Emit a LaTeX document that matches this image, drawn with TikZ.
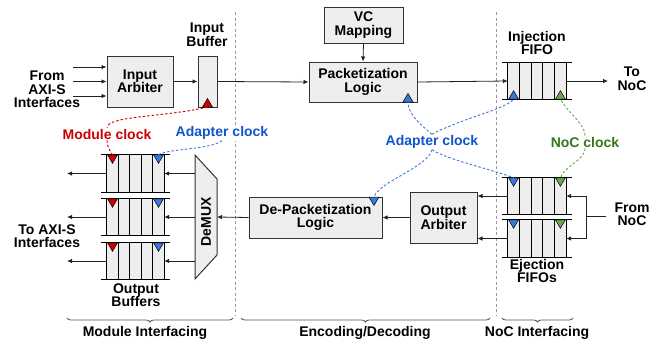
\documentclass[tikz,border=0pt]{standalone}
\usepackage{fontspec}
\setmainfont{Liberation Sans}
\usetikzlibrary{arrows.meta,decorations.pathreplacing,calc}
\definecolor{boxfill}{HTML}{EEEEEE}
\definecolor{boxline}{HTML}{333333}
\definecolor{lineclr}{HTML}{222222}
\definecolor{redtxt}{HTML}{CC0000}
\definecolor{bluetxt}{HTML}{1155CC}
\definecolor{greentxt}{HTML}{38761D}
\definecolor{redfill}{HTML}{CC0000}
\definecolor{bluefill}{HTML}{3C78D8}
\definecolor{greenfill}{HTML}{6AA84F}
\definecolor{divclr}{HTML}{999999}
\definecolor{braceclr}{HTML}{555555}
\newcommand\fifobox[4]{%
  \node[draw=none, fill=boxfill, minimum width=#3pt, minimum height=#4pt, inner sep=0pt] (#1) at #2 {};
  \foreach \i in {0,...,5} {\draw[fifoline] ($(#1.north west)!\i/5!(#1.north east)$) -- ($(#1.south west)!\i/5!(#1.south east)$);}
  \draw[fifoline] ([xshift=-6pt]#1.north west) -- ([xshift=6pt]#1.north east);
  \draw[fifoline] ([xshift=-6pt]#1.south west) -- ([xshift=6pt]#1.south east);
}
\newcommand\triup[3]{\coordinate (#1) at #2;
  \filldraw[fill=#3, draw=black, line width=0.5pt] ($(#1)+(-5,0)$) -- ($(#1)+(5,0)$) -- ($(#1)+(0,-8.5)$) -- cycle;}
\newcommand\tridown[3]{\coordinate (#1) at #2;
  \filldraw[fill=#3, draw=black, line width=0.5pt] ($(#1)+(-5,0)$) -- ($(#1)+(5,0)$) -- ($(#1)+(0,8.5)$) -- cycle;}
\begin{document}
\begin{tikzpicture}[x=1pt,y=-1pt,
  font=\bfseries\fontsize{14}{13.5}\selectfont,
  box/.style={draw=boxline, fill=boxfill, line width=1pt, align=center, inner sep=0pt},
  lbl/.style={align=center, inner sep=1pt, text=black},
  arr/.style={-{Latex[length=5pt,width=4.5pt]}, line width=0.8pt, draw=lineclr},
  plain/.style={line width=0.8pt, draw=lineclr},
  fifoline/.style={line width=0.9pt, draw=black},
  divider/.style={draw=divclr, line width=0.9pt, dash pattern=on 3pt off 2.5pt},
  reddash/.style={draw=redfill, line width=0.9pt, dash pattern=on 2.5pt off 2pt},
  bluedash/.style={draw=bluefill, line width=0.9pt, dash pattern=on 2.5pt off 2pt},
  greendash/.style={draw=greenfill, line width=0.9pt, dash pattern=on 2.5pt off 2pt},
  bracestyle/.style={draw=braceclr, line width=0.8pt, decorate, decoration={brace, amplitude=4pt, mirror}},
  clk/.style={inner sep=1pt, fill=white}]
\useasboundingbox (0,0) rectangle (661,343);

% dividers
\draw[divider] (235,12) -- (235,316);
\draw[divider] (496,12) -- (496,316);

% ---- Module interfacing (top)
\node[lbl] (from) at (47,89.5) {From\\AXI-S\\Interfaces};
\node[box, minimum width=66pt, minimum height=51pt] (arb) at (140,81.5) {Input\\Arbiter};
\node[box, minimum width=19pt, minimum height=51pt] (ibuf) at (207.5,81.5) {};
\node[lbl] (ibuflbl) at (207,35) {Input\\Buffer};
\coordinate (i1) at (73,67);
\coordinate (i2) at (73,81.5);
\coordinate (i3) at (73,96);
\draw[arr] (i1) -- (i1 -| arb.west);
\draw[arr] (i2) -- (arb.west);
\draw[arr] (i3) -- (i3 -| arb.west);
\draw[arr] (arb.east) -- (ibuf.west);

% ---- Encoding (top)
\node[box, minimum width=79pt, minimum height=36pt] (vc) at (363.5,25) {VC\\Mapping};
\node[box, minimum width=108pt, minimum height=40pt] (pkt) at (363,82) {Packetization\\Logic};
\draw[arr] (vc.south) -- (pkt.north);
\draw[arr] (ibuf.east) -- (pkt.west);

% ---- NoC interfacing (top)
\fifobox{inj}{(537,81)}{58}{36}
\node[lbl] (injlbl) at (537,43) {Injection\\FIFO};
\node[lbl] (tonoc) at (632,79) {To\\NoC};
\coordinate (tonocpt) at (608,81);
\draw[arr] (pkt.east) -- (inj.west);
\draw[arr] (inj.east) -- (tonocpt);

% ---- Output buffers
\fifobox{ob1}{(135.5,173.5)}{57}{37}
\fifobox{ob2}{(135.5,217)}{57}{36}
\fifobox{ob3}{(135.5,261)}{57}{36}
\node[lbl] (toaxi) at (47,236) {To AXI-S\\Interfaces};
\node[lbl] (oblbl) at (136,295) {Output\\Buffers};
\coordinate (o1) at (67,173.5);
\coordinate (o2) at (67,217);
\coordinate (o3) at (67,261);
\draw[arr] (ob1.west) -- (o1);
\draw[arr] (ob2.west) -- (o2);
\draw[arr] (ob3.west) -- (o3);

% DeMUX
\filldraw[fill=boxfill, draw=boxline, line width=1pt] (195,155) -- (217,179) -- (217,255) -- (195,279) -- cycle;
\node[rotate=90, inner sep=0pt] (demux) at (206,222) {DeMUX};
\coordinate (demuxR) at (217,217);
\coordinate (demuxL) at (195,217);
\draw[arr] (ob1.east -| demuxL) -- (ob1.east);
\draw[arr] (demuxL) -- (ob2.east);
\draw[arr] (ob3.east -| demuxL) -- (ob3.east);

% ---- Encoding (bottom)
\node[box, minimum width=133pt, minimum height=41pt] (depkt) at (315.5,217.5) {De-Packetization\\Logic};
\node[box, minimum width=67pt, minimum height=51pt] (oarb) at (443.5,217.5) {Output\\Arbiter};
\draw[arr] (depkt.west) -- (demuxR);
\draw[arr] (oarb.west) -- (depkt.east);

% ---- Ejection FIFOs
\fifobox{ej1}{(537,196)}{58}{36}
\fifobox{ej2}{(537,238.5)}{58}{37}
\node[lbl] (ejlbl) at (537,271) {Ejection\\FIFOs};
\draw[arr] (ej1.west) -- (ej1.west -| oarb.east);
\draw[arr] (ej2.west) -- (ej2.west -| oarb.east);
\node[lbl] (fromnoc) at (632,214) {From\\NoC};
\coordinate (fn) at (606,216);
\coordinate (fnj) at (586,216);
\draw[plain] (fn) -- (fnj);
\draw[plain] (fnj |- ej1.east) -- (fnj |- ej2.east);
\draw[arr] (fnj |- ej1.east) -- (ej1.east);
\draw[arr] (fnj |- ej2.east) -- (ej2.east);

% ---- clock triangles
\triup{ibT}{(207.5,107)}{redfill}
\triup{pktT}{(408,102)}{bluefill}
\triup{injB}{($(inj.south west)+(5.8,0)$)}{bluefill}
\triup{injG}{($(inj.south east)+(-5.8,0)$)}{greenfill}
\tridown{depT}{(374,197)}{bluefill}
\tridown{ej1B}{($(ej1.north west)+(5.8,0)$)}{bluefill}
\tridown{ej1G}{($(ej1.north east)+(-5.8,0)$)}{greenfill}
\tridown{ej2B}{($(ej2.north west)+(5.8,0)$)}{bluefill}
\tridown{ej2G}{($(ej2.north east)+(-5.8,0)$)}{greenfill}
\tridown{ob1R}{($(ob1.north west)+(5.7,0)$)}{redfill}
\tridown{ob1B}{($(ob1.north east)+(-5.7,0)$)}{bluefill}
\tridown{ob2R}{($(ob2.north west)+(5.7,0)$)}{redfill}
\tridown{ob2B}{($(ob2.north east)+(-5.7,0)$)}{bluefill}
\tridown{ob3R}{($(ob3.north west)+(5.7,0)$)}{redfill}
\tridown{ob3B}{($(ob3.north east)+(-5.7,0)$)}{bluefill}

% ---- clock labels
\node[clk, text=redtxt] (modclk) at (107,134) {Module clock};
\node[clk, text=bluetxt] (adpL) at (222,133) {Adapter clock};
\node[clk, text=bluetxt] (adp) at (432,142) {Adapter clock};
\node[clk, text=greentxt] (noc) at (585,142) {NoC clock};

% ---- clock connectors
\draw[reddash] (ibT) .. controls +(-40,10) and +(0,-12) .. (modclk.north);
\draw[reddash] (modclk.south) .. controls +(0,6) and +(-3,-5) .. (ob1R);
\draw[bluedash] (adpL.south) .. controls +(-12,9) and +(8,-6) .. (ob1B);
\draw[bluedash] (adp.north) .. controls +(-12,-10) and +(0,12) .. (pktT);
\draw[bluedash] (adp.north) .. controls +(30,-16) and +(-8,10) .. (injB);
\draw[bluedash] (adp.south) .. controls +(15,10) and +(-20,-8) .. (ej1B);
\draw[bluedash] (adp.south) .. controls +(-5,18) and +(6,-16) .. (depT);
\draw[greendash] (noc.north) .. controls +(0,-12) and +(6,12) .. (injG);
\draw[greendash] (noc.south) .. controls +(0,12) and +(4,-12) .. (ej1G);

% ---- braces
\draw[bracestyle] (67,318) -- (233,318);
\draw[bracestyle] (241,318) -- (490,318);
\draw[bracestyle] (502,318) -- (573,318);
\node[lbl] (modint) at (145,333) {Module Interfacing};
\node[lbl] (encdec) at (365,333) {Encoding/Decoding};
\node[lbl] (nocint) at (537,333) {NoC Interfacing};
\end{tikzpicture}
\end{document}
